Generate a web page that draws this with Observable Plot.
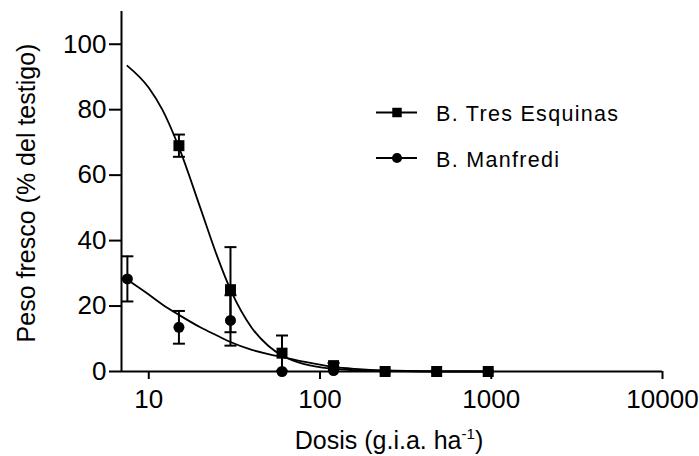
<!DOCTYPE html>
<html><head><meta charset="utf-8">
<script src="https://cdn.jsdelivr.net/npm/d3@7"></script>
<script src="https://cdn.jsdelivr.net/npm/@observablehq/plot@0.6"></script>
<style>body{margin:0;background:#fff} svg{font-family:"Liberation Sans",Arial,sans-serif}</style>
</head><body><div id="chart"></div>
<script>
const series = ["B. Tres Esquinas", "B. Manfredi"];
const tresDose = [15, 30, 60, 120, 240, 480, 960];
const tresMean = [69, 25, 5.6, 1.8, 0, 0, 0];
const tresErr  = [3.4, 13, 5.4, 0.8, 0, 0, 0];
const manDose = [7.5, 15, 30, 60, 120, 240, 480, 960];
const manMean = [28.3, 13.5, 15.6, 0, 0.3, 0, 0, 0];
const manErr  = [6.9, 5.0, 7.7, 0, 0, 0, 0, 0];
const fitDose = [7.5, 10, 12, 15, 20, 25, 30, 40, 50, 60, 80, 120, 160, 240, 480, 960];
const tresFit = [93.4, 86.7, 80, 68.5, 50, 35.4, 25, 13.3, 7.8, 4.9, 2.3, 0.8, 0.4, 0.1, 0, 0];
const manFit  = [28, 23.5, 20.5, 17.3, 13.5, 11, 9, 6.6, 5.3, 4.4, 3.0, 1.4, 0.8, 0.3, 0.05, 0];
const xTicks = [10, 100, 1000, 10000];
const yTicks = [0, 20, 40, 60, 80, 100];
const xDomain = [6.93, 10000];
const yDomain = [0, 110];
const xTitle = "Dosis (g.i.a. ha";
const xTitleSup = "-1";
const yTitle = "Peso fresco (% del testigo)";

const rows = [
  ...tresDose.map((d, i) => ({series: series[0], dose: d, mean: tresMean[i], err: tresErr[i]})),
  ...manDose.map((d, i) => ({series: series[1], dose: d, mean: manMean[i], err: manErr[i]}))
];
const fit = [
  ...fitDose.map((d, i) => ({series: series[0], dose: d, v: tresFit[i]})),
  ...fitDose.map((d, i) => ({series: series[1], dose: d, v: manFit[i]}))
];
const bars = rows.filter(r => r.err > 0);
const caps = bars.flatMap(r => [{...r, y: r.mean + r.err}, {...r, y: Math.max(0, r.mean - r.err)}]);
const capSymbol = {draw(ctx, size) { const r = Math.sqrt(size / Math.PI); ctx.moveTo(-r, 0); ctx.lineTo(r, 0); }};

const svg = Plot.plot({
  width: 699, height: 456,
  marginLeft: 121, marginRight: 37, marginTop: 11, marginBottom: 85,
  style: {fontFamily: "Liberation Sans, Arial, sans-serif", fontSize: "26px", color: "#000", background: "#fff", overflow: "visible"},
  x: {type: "log", domain: xDomain},
  y: {domain: yDomain},
  marks: [
    Plot.axisX({ticks: xTicks, tickFormat: d3.format("d"), tickSize: 8, tickPadding: 10, label: null, strokeWidth: 2, fontSize: 26}),
    Plot.axisY({ticks: yTicks, tickSize: 12, tickPadding: 3, label: null, strokeWidth: 2, fontSize: 26}),
    Plot.ruleY([yDomain[0]], {strokeWidth: 2}),
    Plot.ruleX([xDomain[0]], {strokeWidth: 2}),
    Plot.line(fit, {x: "dose", y: "v", z: "series", curve: "monotone-x", strokeWidth: 1.8, stroke: "black"}),
    Plot.ruleX(bars, {x: "dose", y1: d => Math.max(0, d.mean - d.err), y2: d => d.mean + d.err, strokeWidth: 2, stroke: "black"}),
    Plot.dot(caps, {x: "dose", y: "y", symbol: capSymbol, r: 6, stroke: "black", strokeWidth: 2, fill: "none"}),
    Plot.dot(rows.filter(r => r.series === series[1]), {x: "dose", y: "mean", symbol: "circle", r: 5.5, fill: "black"}),
    Plot.dot(rows.filter(r => r.series === series[0]), {x: "dose", y: "mean", symbol: "square", r: 6.2, fill: "black"})
  ]
});
document.getElementById("chart").appendChild(svg);

const s = d3.select(svg);
// axis titles
const xt = s.append("text").attr("x", 389).attr("y", 449).attr("text-anchor", "middle")
  .attr("font-size", 25).attr("fill", "black");
xt.append("tspan").text(xTitle);
xt.append("tspan").attr("font-size", 15).attr("dy", -10).text(xTitleSup);
xt.append("tspan").attr("dy", 10).text(")");
s.append("text").attr("transform", "translate(35,193) rotate(-90)").attr("text-anchor", "middle")
  .attr("font-size", 25).attr("fill", "black").text(yTitle);

// legend
const leg = s.append("g");
const symbols = [d3.symbolSquare, d3.symbolCircle];
const sizes = [90, 80];
series.forEach((name, i) => {
  const cy = 112.5 + i * 45.5;
  leg.append("line").attr("x1", 376).attr("x2", 417).attr("y1", cy).attr("y2", cy).attr("stroke", "black").attr("stroke-width", 2);
  leg.append("path").attr("d", d3.symbol(symbols[i], sizes[i])()).attr("transform", `translate(397,${cy})`).attr("fill", "black");
  leg.append("text").attr("x", 436).attr("y", cy + 8.5).attr("text-anchor", "start").attr("font-size", 21.5).attr("letter-spacing", "1.3px").attr("fill", "black").text(name);
});
</script></body></html>
